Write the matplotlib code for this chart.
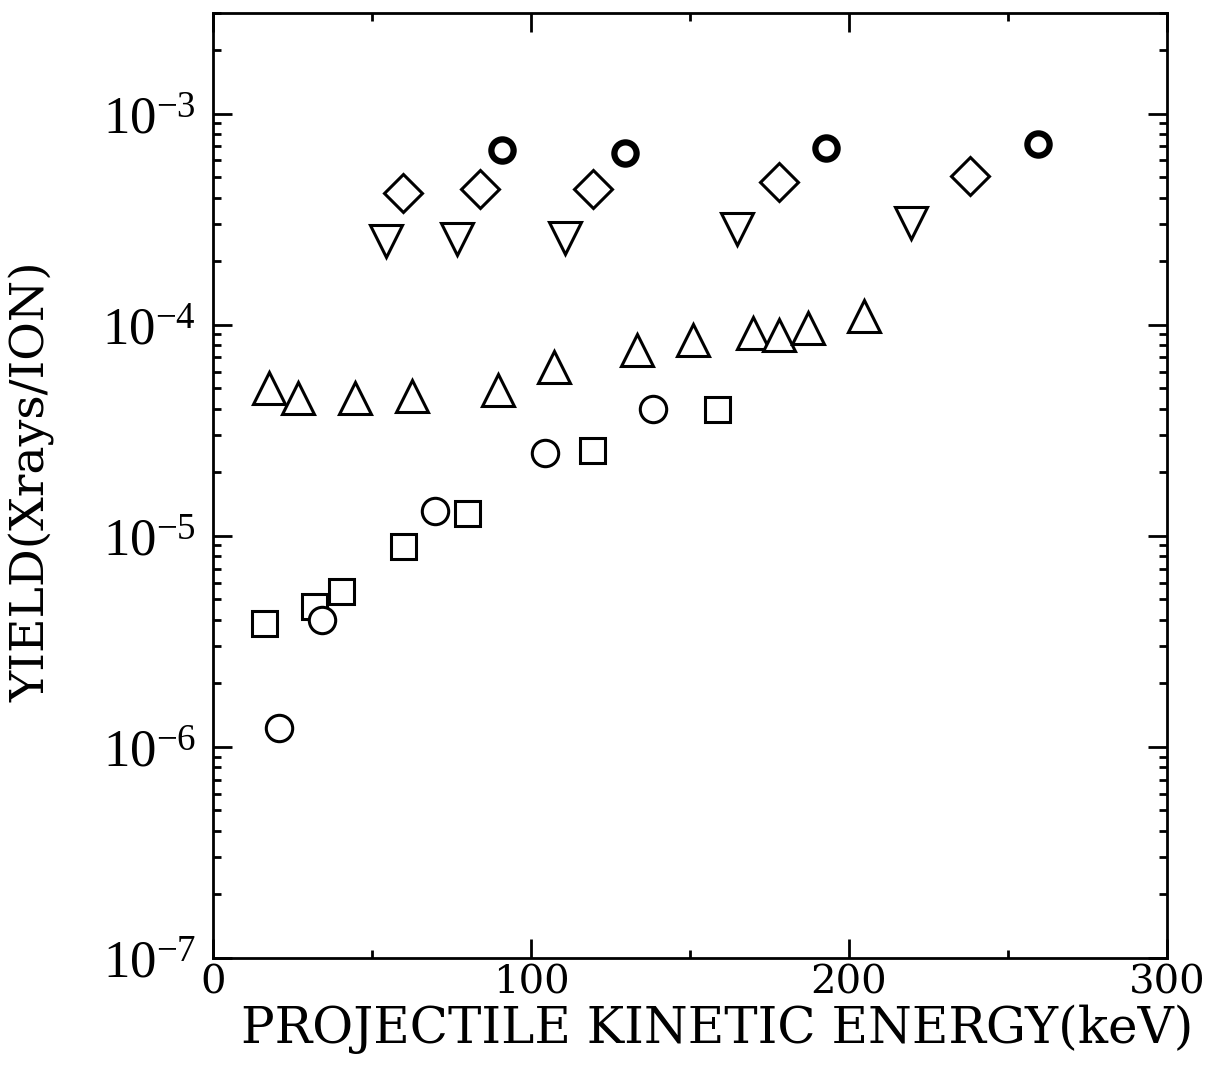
import numpy as np
import matplotlib
matplotlib.use('Agg')
import matplotlib.pyplot as plt
from matplotlib.ticker import FixedLocator, LogLocator, NullFormatter

plt.rcParams['mathtext.fontset'] = 'custom'
plt.rcParams['mathtext.rm'] = 'Liberation Serif'
plt.rcParams['mathtext.it'] = 'Liberation Serif:italic'

# --- données (énergie en keV, rendement en X/ion) ---
circ_bold_x = [90.9, 129.6, 192.8, 259.4]
circ_bold_y = [6.7e-4, 6.5e-4, 6.9e-4, 7.2e-4]

diam_x = [59.7, 84.0, 119.5, 178.0, 238.1]
diam_y = [4.2e-4, 4.4e-4, 4.4e-4, 4.75e-4, 5.05e-4]

tri_down_x = [54.4, 76.7, 110.7, 164.8, 219.5]
tri_down_y = [2.5e-4, 2.55e-4, 2.57e-4, 2.85e-4, 3.03e-4]

tri_up_x = [17.6, 26.7, 44.7, 62.6, 89.6, 107.2, 133.3, 150.9, 169.8, 178.0, 187.1, 204.7]
tri_up_y = [5.0e-5, 4.5e-5, 4.5e-5, 4.6e-5, 4.9e-5, 6.3e-5, 7.6e-5, 8.5e-5, 9.1e-5, 8.9e-5, 9.7e-5, 1.1e-4]

circ_x = [20.8, 34.3, 69.8, 104.4, 138.4]
circ_y = [1.23e-6, 3.97e-6, 1.31e-5, 2.47e-5, 3.99e-5]

sq_x = [16.0, 31.8, 40.3, 59.7, 79.9, 119.2, 158.5]
sq_y = [3.88e-6, 4.63e-6, 5.45e-6, 8.9e-6, 1.28e-5, 2.55e-5, 3.99e-5]

x_ticks = [0, 100, 200, 300]
y_ticks = [1e-7, 1e-6, 1e-5, 1e-4, 1e-3]
y_tick_labels = [r'$\mathrm{10}^{-7}$', r'$\mathrm{10}^{-6}$', r'$\mathrm{10}^{-5}$',
                 r'$\mathrm{10}^{-4}$', r'$\mathrm{10}^{-3}$']

fig = plt.figure(figsize=(12.15, 10.8), dpi=100)
ax = fig.add_axes([0.1753, 0.113, 0.7852, 0.875])

lw = 2.2
common = dict(linestyle='none', markerfacecolor='white', markeredgecolor='black', markeredgewidth=lw)
ax.plot(sq_x, sq_y, marker='s', markersize=18, **common)
ax.plot(circ_x, circ_y, marker='o', markersize=19, **common)
ax.plot(tri_up_x, tri_up_y, marker='^', markersize=23, **common)
ax.plot(tri_down_x, tri_down_y, marker='v', markersize=23, **common)
ax.plot(diam_x, diam_y, marker='D', markersize=19.5, **common)
ax.plot(circ_bold_x, circ_bold_y, linestyle='none', marker='o', markersize=16,
        markerfacecolor='white', markeredgecolor='black', markeredgewidth=4.5)

ax.set_yscale('log')
ax.set_xlim(0, 300)
ax.set_ylim(1e-7, 3e-3)

for s in ax.spines.values():
    s.set_linewidth(2)

ax.xaxis.set_major_locator(FixedLocator(x_ticks))
ax.xaxis.set_minor_locator(FixedLocator([50, 150, 250]))
ax.set_xticklabels([str(v) for v in x_ticks], fontfamily='DejaVu Serif', fontsize=29)

ax.yaxis.set_major_locator(FixedLocator(y_ticks))
ax.yaxis.set_minor_locator(LogLocator(base=10, subs=np.arange(2, 10)))
ax.yaxis.set_minor_formatter(NullFormatter())
ax.set_yticklabels(y_tick_labels, fontsize=38)

ax.tick_params(which='both', direction='in', top=True, right=True, width=2)
ax.tick_params(which='major', length=14)
ax.tick_params(which='minor', length=6)
ax.tick_params(axis='x', pad=5)
ax.tick_params(axis='y', pad=12)

fig.text(0.590, 0.047, 'PROJECTILE KINETIC ENERGY(keV)', fontfamily='DejaVu Serif',
         fontsize=36, ha='center', va='center')
fig.text(0.027, 0.554, 'YIELD(Xrays/ION)', fontfamily='DejaVu Serif',
         fontsize=34, ha='center', va='center', rotation=90)

plt.savefig('out.png', dpi=100)
plt.close()
